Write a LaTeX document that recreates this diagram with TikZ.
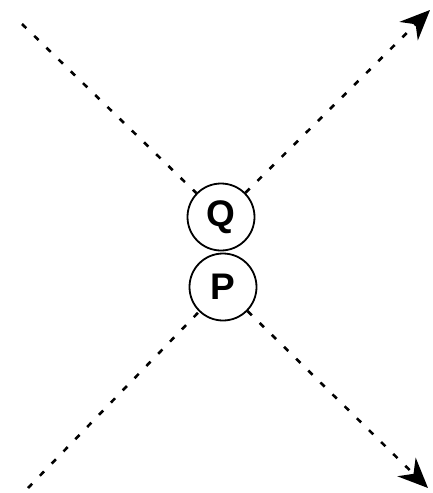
\documentclass[tikz,border=0pt]{standalone}
\usepackage{fontspec}
\setmainfont{Liberation Sans}
\usetikzlibrary{arrows.meta}
\begin{document}
\begin{tikzpicture}[x=1pt,y=-1pt,
  ball/.style={circle,draw,line width=1.8pt,minimum size=67pt,inner sep=0pt,font=\fontsize{37}{37}\selectfont\bfseries},
  dline/.style={line width=2.6pt,dash pattern=on 6pt off 11pt},
  arr/.style={-{Stealth[length=30pt,width=26pt]}}]
\useasboundingbox (0,0) rectangle (432,493);
\node[ball] (Q) at (221,217) {Q};
\node[ball] (P) at (223,287) {P};
\coordinate (tl) at (22,24);
\coordinate (tr) at (430,10);
\coordinate (bl) at (28,488);
\coordinate (br) at (428,488);
\draw[dline] (tl) -- (Q);
\draw[dline,arr] (Q) -- (tr);
\draw[dline] (bl) -- (P);
\draw[dline,arr] (P) -- (br);
\end{tikzpicture}
\end{document}
